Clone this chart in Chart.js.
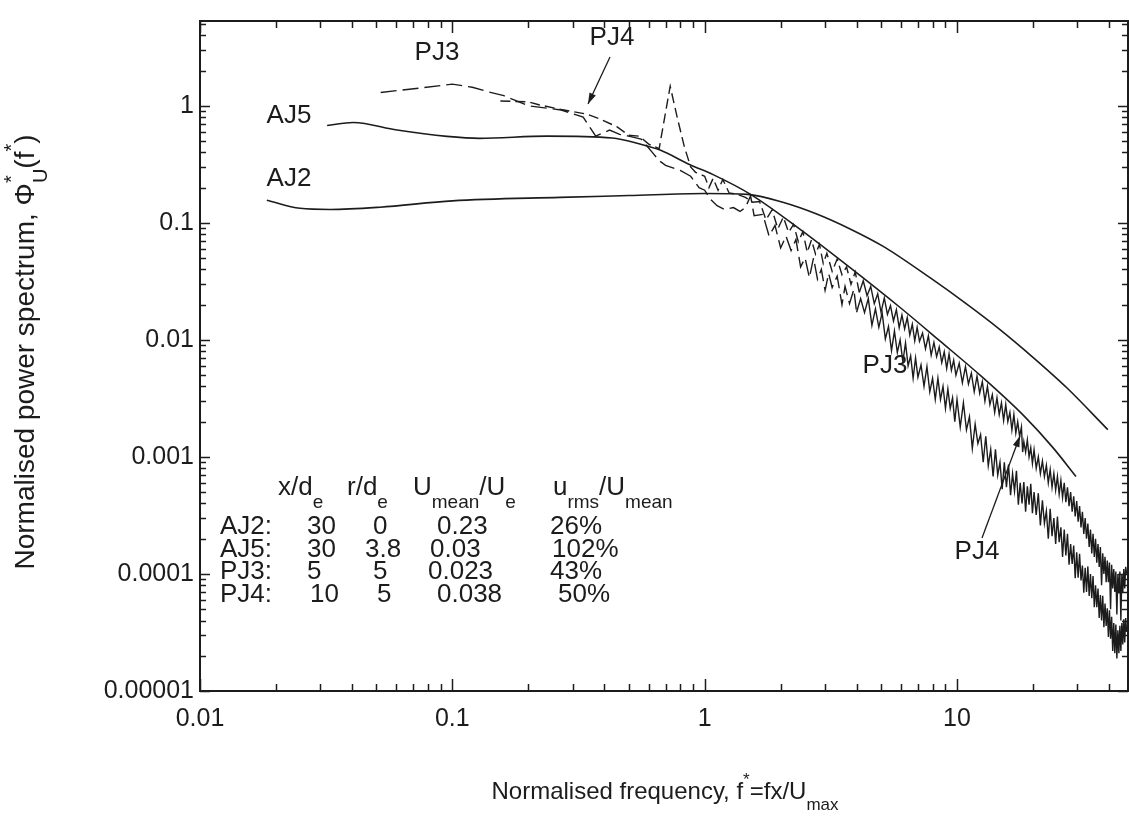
<!DOCTYPE html>
<html>
<head>
<meta charset="utf-8">
<title>Normalised power spectrum</title>
<script src="https://cdn.jsdelivr.net/npm/chart.js@4.4.0/dist/chart.umd.min.js"></script>
<style>
  html, body { margin: 0; padding: 0; background: #fff; }
  #wrap { width: 1129px; height: 816px; }
</style>
</head>
<body>
<div id="wrap"><canvas id="spectrum" width="1129" height="816"></canvas></div>
<script>
// axis ranges and tick values
const xRange = [0.01, 47.6];
const yRange = [0.00001, 5.3];
const xTicks = [0.01, 0.1, 1, 10];
const yTicks = [0.00001, 0.0001, 0.001, 0.01, 0.1, 1];
const minorSteps = [2, 3, 4, 5, 6, 7, 8, 9];

// AJ2 - smooth spectrum
const aj2Freq  = [0.0184, 0.0249, 0.0328, 0.0517, 0.1, 0.267, 0.5, 1.0, 1.48, 2.04, 2.78, 3.77, 5.12, 7.84, 10.9, 14.8, 20.0, 27.3, 39.6];
const aj2Power = [0.156, 0.133, 0.130, 0.136, 0.154, 0.165, 0.171, 0.178, 0.175, 0.150, 0.119, 0.0887, 0.0626, 0.0338, 0.0203, 0.01225, 0.0071, 0.00388, 0.00171];

// AJ5 - smooth spectrum
const aj5Freq  = [0.0319, 0.0405, 0.0604, 0.0952, 0.128, 0.237, 0.43, 0.54, 0.666, 0.875, 1.08, 1.52, 2.39, 3.77, 5.95, 8.5, 12.6, 18.5, 24.0, 29.6];
const aj5Power = [0.679, 0.72, 0.62, 0.548, 0.527, 0.55, 0.53, 0.479, 0.418, 0.313, 0.258, 0.175, 0.0879, 0.0414, 0.0189, 0.0099, 0.0048, 0.00222, 0.0012, 0.00068];

// PJ3 - measured spectrum
const pj3Freq = [
  0.052, 0.075, 0.10, 0.12, 0.14, 0.16, 0.2, 0.27, 0.33, 0.37, 0.42, 0.46, 0.5, 0.56, 0.62, 0.66, 0.7, 0.8, 0.88, 0.95, 1.0, 1.05, 1.12, 1.2, 1.3, 1.38, 1.45, 1.52,
  1.57, 1.7, 1.8, 1.9, 2.0, 2.1, 2.2, 2.3, 2.4, 2.5, 2.6, 2.7, 2.8, 2.9,
  3.0, 3.1, 3.2, 3.35, 3.5, 3.6, 3.75, 3.9, 4.0, 4.15, 4.3, 4.45, 4.6, 4.75, 4.9,
  5.05, 5.2, 5.35, 5.5, 5.65, 5.8, 5.95, 6.1, 6.25, 6.4, 6.55, 6.7, 6.85, 7.0,
  7.2, 7.4, 7.6, 7.8, 8.0, 8.2, 8.4, 8.6, 8.8, 9.0, 9.2, 9.4, 9.6, 9.8, 10.0,
  10.3, 10.6, 10.9, 11.2, 11.5, 11.8, 12.1, 12.4, 12.7, 13.0, 13.3, 13.6, 13.9, 14.2, 14.5, 14.8,
  15.1, 15.4, 15.7, 16.0, 16.3, 16.6, 16.9, 17.2, 17.5, 17.8, 18.1, 18.4, 18.7, 19.0, 19.3, 19.6, 19.9, 20.2,
  20.6, 21.0, 21.4, 21.8, 22.2, 22.6, 23.0, 23.4, 23.8, 24.2, 24.6, 25.0, 25.4, 25.8, 26.2, 26.6, 27.0, 27.4, 27.8, 28.2, 28.6, 29.0, 29.4, 29.8,
  30.2, 30.6, 31.0, 31.4, 31.8, 32.2, 32.6, 33.0, 33.4, 33.8, 34.2, 34.6, 35.0, 35.4, 35.8, 36.2, 36.6, 37.0, 37.4, 37.8, 38.2, 38.6, 39.0, 39.4, 39.8,
  40.2, 40.6, 41.0, 41.4, 41.8, 42.2, 42.6, 43.0, 43.4, 43.8, 44.2, 44.6, 45.0, 45.4, 45.8, 46.2, 46.6, 47.0
];
const pj3Power = [
  1.30, 1.42, 1.53, 1.44, 1.31, 1.22, 1.0, 0.92, 0.80, 0.55, 0.62, 0.57, 0.55, 0.52, 0.40, 0.34, 0.31, 0.28, 0.25, 0.20, 0.19, 0.16, 0.14, 0.13, 0.135, 0.125, 0.135, 0.17,
  0.115, 0.118, 0.077, 0.095, 0.061, 0.077, 0.058, 0.072, 0.042, 0.050, 0.034, 0.050, 0.033, 0.040,
  0.0265, 0.037, 0.028, 0.035, 0.020, 0.0286, 0.0204, 0.027, 0.0172, 0.0225, 0.0171, 0.0225, 0.0133, 0.0184, 0.0128,
  0.017, 0.0102, 0.013, 0.0081, 0.0119, 0.0078, 0.010, 0.0065, 0.0094, 0.006, 0.0073, 0.0047, 0.007, 0.0048,
  0.0061, 0.004, 0.0059, 0.0036, 0.0047, 0.0031, 0.0047, 0.0031, 0.004, 0.0026, 0.0038, 0.0026, 0.0032, 0.002, 0.0031,
  0.0018, 0.0029, 0.0017, 0.0022, 0.00118, 0.0019, 0.0013, 0.00155, 0.0009, 0.0015, 0.00084, 0.00116, 0.00068, 0.00116, 0.0007, 0.0009,
  0.00053, 0.0009, 0.00055, 0.00086, 0.00047, 0.00072, 0.00051, 0.00076, 0.00039, 0.0006, 0.0004, 0.00061, 0.00034, 0.00056, 0.00039, 0.00059, 0.00033, 0.0005,
  0.00032, 0.00049, 0.00026, 0.000425, 0.00027, 0.000345, 0.0002, 0.00036, 0.00021, 0.0003, 0.00018, 0.00031, 0.000187, 0.00025, 0.00014, 0.00024, 0.000144, 0.00022, 0.00012, 0.00018, 0.000122, 0.000175, 0.000092, 0.000153,
  0.000093, 0.000149, 0.000088, 0.000118, 0.000069, 0.000113, 0.00007, 0.000116, 0.000065, 0.0001, 0.000062, 0.000096, 0.000052, 0.00008, 0.000052, 0.000075, 0.000042, 0.000066, 0.00004, 0.000065, 0.000035, 0.000056, 0.000036, 0.000051, 0.000029,
  0.000049, 0.000028, 0.000043, 0.000022, 0.000038, 0.000021, 0.000037, 0.000019, 0.000033, 0.000021, 0.000036, 0.000022, 0.000038, 0.000025, 0.000041, 0.000026, 0.000042, 0.000032
];

// PJ4 - measured spectrum
const pj4Freq = [
  0.155, 0.2, 0.22, 0.27, 0.34, 0.38, 0.45, 0.5, 0.55, 0.6, 0.66, 0.73, 0.78, 0.83, 0.88, 0.92, 1.0, 1.04, 1.08, 1.13, 1.18, 1.25, 1.35, 1.45,
  1.55, 1.65, 1.75, 1.85, 1.95, 2.05, 2.15, 2.25, 2.35, 2.45, 2.55, 2.65, 2.75, 2.85, 2.95, 3.05,
  3.2, 3.35, 3.5, 3.65, 3.8, 3.95, 4.1, 4.25, 4.4, 4.55, 4.7, 4.85, 5.0, 5.15, 5.3, 5.45, 5.6, 5.75, 5.9, 6.05, 6.2, 6.35,
  6.5, 6.65, 6.8, 6.95, 7.1, 7.3, 7.5, 7.7, 7.9, 8.1, 8.3, 8.5, 8.7, 8.9, 9.1, 9.3, 9.5, 9.7, 9.9,
  10.2, 10.5, 10.8, 11.1, 11.4, 11.7, 12.0, 12.3, 12.6, 12.9, 13.2, 13.5, 13.8, 14.1, 14.4, 14.7,
  15.0, 15.3, 15.6, 15.9, 16.2, 16.5, 16.8, 17.1, 17.4, 17.7, 18.0, 18.2, 18.4, 18.7, 19.0, 19.3, 19.6, 19.9, 20.2,
  20.6, 21.0, 21.4, 21.8, 22.2, 22.6, 23.0, 23.4, 23.8, 24.2, 24.6, 25.0, 25.4, 25.8, 26.2, 26.6, 27.0, 27.4, 27.8, 28.2, 28.6, 29.0, 29.4, 29.8,
  30.2, 30.6, 31.0, 31.4, 31.8, 32.2, 32.6, 33.0, 33.4, 33.8, 34.2, 34.6, 35.0, 35.4, 35.8, 36.2, 36.6, 37.0, 37.4, 37.8, 38.2, 38.6, 39.0, 39.4, 39.8,
  40.2, 40.6, 41.0, 41.4, 41.8, 42.2, 42.6, 43.0, 43.4, 43.8, 44.2, 44.6, 45.0, 45.4, 45.8, 46.2, 46.6, 47.0
];
const pj4Power = [
  1.10, 1.08, 1.02, 0.93, 0.85, 0.78, 0.66, 0.56, 0.55, 0.47, 0.43, 1.47, 0.78, 0.45, 0.30, 0.27, 0.25, 0.20, 0.24, 0.19, 0.235, 0.18, 0.175, 0.165,
  0.15, 0.152, 0.106, 0.129, 0.089, 0.112, 0.083, 0.097, 0.069, 0.084, 0.056, 0.0715, 0.054, 0.0655, 0.045, 0.055,
  0.0385, 0.049, 0.036, 0.042, 0.0298, 0.038, 0.0254, 0.032, 0.0238, 0.0286, 0.0204, 0.0248, 0.0172, 0.0228, 0.0165, 0.0196, 0.0145, 0.0181, 0.0127, 0.0163, 0.0124, 0.0155,
  0.011, 0.0136, 0.0098, 0.0128, 0.0097, 0.0114, 0.0084, 0.0108, 0.0074, 0.0095, 0.0072, 0.0087, 0.0064, 0.0079, 0.0057, 0.0076, 0.0055, 0.0067, 0.005,
  0.0063, 0.0043, 0.0059, 0.0042, 0.0052, 0.0036, 0.0049, 0.0035, 0.0044, 0.003, 0.004, 0.0028, 0.0034, 0.0024, 0.0032, 0.0023,
  0.0029, 0.00205, 0.0028, 0.002, 0.0024, 0.0017, 0.0023, 0.0016, 0.002, 0.0015, 0.0018, 0.0011, 0.00135, 0.0011, 0.0014, 0.001, 0.0012, 0.00088, 0.00115,
  0.0008, 0.001, 0.00072, 0.00092, 0.00068, 0.00085, 0.0006, 0.00078, 0.00055, 0.00072, 0.00052, 0.00068, 0.00048, 0.00063, 0.00045, 0.0006, 0.00041, 0.00055, 0.00038, 0.0005, 0.00034, 0.00046, 0.00031, 0.00042,
  0.00028, 0.00038, 0.00025, 0.00034, 0.00022, 0.0003, 0.0002, 0.00027, 0.00017, 0.00024, 0.00015, 0.00022, 0.00014, 0.0002, 0.000125, 0.00018, 0.000115, 0.00017, 0.00008, 0.00015, 0.0001, 0.00014, 0.000085, 0.00013, 0.000085,
  0.000125, 0.00005, 0.00012, 0.000075, 0.00011, 0.00007, 0.000105, 0.000045, 0.0001, 0.000068, 0.000105, 0.00004, 0.0001, 0.00007, 0.00011, 0.000075, 0.000115, 0.0001
];

const INK = '#1c1c1c';
const FONT = '"Liberation Sans", Arial, sans-serif';

function pairs(xs, ys) {
  return xs.map((x, i) => ({ x: x, y: ys[i] }));
}

function fmtTick(v) {
  if (v >= 1) return String(v);
  const digits = Math.round(-Math.log10(v));
  return v.toFixed(digits);
}

// dashed at low frequency, where the samples are sparse
function dashBelow(limit, pattern) {
  return ctx => (ctx.p0.parsed.x < limit ? pattern : []);
}

// text with sub/superscripts; parts: {t, sub, sup}
function richWidth(ctx, parts, size) {
  let w = 0;
  parts.forEach(p => {
    ctx.font = size + 'px ' + FONT;
    const pw = p.t ? ctx.measureText(p.t).width : 0;
    ctx.font = Math.round(size * 0.72) + 'px ' + FONT;
    const sw = Math.max(p.sub ? ctx.measureText(p.sub).width : 0, p.sup ? ctx.measureText(p.sup).width : 0);
    w += pw + sw;
  });
  return w;
}

function drawRich(ctx, parts, x, y, size, align) {
  let cx = align === 'center' ? x - richWidth(ctx, parts, size) / 2 : x;
  ctx.textAlign = 'left';
  ctx.textBaseline = 'middle';
  parts.forEach(p => {
    ctx.font = size + 'px ' + FONT;
    if (p.t) {
      ctx.fillText(p.t, cx, y);
      cx += ctx.measureText(p.t).width;
    }
    ctx.font = Math.round(size * 0.72) + 'px ' + FONT;
    let sw = 0;
    if (p.sub) {
      ctx.fillText(p.sub, cx, y + size * 0.55);
      sw = ctx.measureText(p.sub).width;
    }
    if (p.sup) {
      ctx.fillText(p.sup, cx, y - size * 0.5);
      sw = Math.max(sw, ctx.measureText(p.sup).width);
    }
    cx += sw;
  });
}

function arrow(ctx, x0, y0, x1, y1) {
  ctx.beginPath();
  ctx.moveTo(x0, y0);
  ctx.lineTo(x1, y1);
  ctx.stroke();
  const a = Math.atan2(y1 - y0, x1 - x0);
  ctx.beginPath();
  ctx.moveTo(x1, y1);
  ctx.lineTo(x1 - 11 * Math.cos(a) + 3.5 * Math.sin(a), y1 - 11 * Math.sin(a) - 3.5 * Math.cos(a));
  ctx.lineTo(x1 - 11 * Math.cos(a) - 3.5 * Math.sin(a), y1 - 11 * Math.sin(a) + 3.5 * Math.cos(a));
  ctx.closePath();
  ctx.fill();
}

// boxed frame with inward ticks on all four sides, titles and labels
const decorations = {
  id: 'decorations',
  afterDraw(chart) {
    const { ctx, chartArea: a, scales: { x, y } } = chart;
    ctx.save();
    ctx.strokeStyle = INK;
    ctx.fillStyle = INK;

    ctx.lineWidth = 1.5;
    ctx.beginPath();
    xTicks.forEach(d => {
      [1].concat(minorSteps).forEach(m => {
        const v = d * m;
        if (v > x.max) return;
        const px = Math.round(x.getPixelForValue(v)) + 0.5;
        const len = m === 1 ? 12 : 7;
        ctx.moveTo(px, a.bottom); ctx.lineTo(px, a.bottom - len);
        ctx.moveTo(px, a.top); ctx.lineTo(px, a.top + len);
      });
    });
    yTicks.forEach(d => {
      [1].concat(minorSteps).forEach(m => {
        const v = d * m;
        if (v > y.max) return;
        const py = Math.round(y.getPixelForValue(v)) + 0.5;
        const len = m === 1 ? 10 : 6;
        ctx.moveTo(a.left, py); ctx.lineTo(a.left + len, py);
        ctx.moveTo(a.right, py); ctx.lineTo(a.right - len, py);
      });
    });
    ctx.stroke();

    ctx.lineWidth = 2;
    ctx.strokeRect(a.left, a.top, a.right - a.left, a.bottom - a.top);

    // curve labels
    ctx.textAlign = 'center';
    ctx.textBaseline = 'middle';
    ctx.font = '26px ' + FONT;
    ctx.fillText('PJ3', 437, 53);
    ctx.fillText('PJ4', 612, 38);
    ctx.fillText('AJ5', 289, 116);
    ctx.fillText('AJ2', 289, 179);
    ctx.fillText('PJ3', 885, 366);
    ctx.fillText('PJ4', 977, 552);
    ctx.lineWidth = 1.3;
    arrow(ctx, 610, 57, 588, 104);
    arrow(ctx, 982, 538, 1020, 436);

    // case table
    drawRich(ctx, [{ t: 'x/d', sub: 'e' }], 278, 488, 26, 'left');
    drawRich(ctx, [{ t: 'r/d', sub: 'e' }], 347, 488, 26, 'left');
    drawRich(ctx, [{ t: 'U', sub: 'mean' }, { t: '/U', sub: 'e' }], 413, 488, 26, 'left');
    drawRich(ctx, [{ t: 'u', sub: 'rms' }, { t: '/U', sub: 'mean' }], 553, 488, 26, 'left');
    const rows = [
      ['AJ2:', '30', 307, '0', 373, '0.23', 437, '26%', 550],
      ['AJ5:', '30', 307, '3.8', 365, '0.03', 430, '102%', 552],
      ['PJ3:', '5', 307, '5', 373, '0.023', 428, '43%', 550],
      ['PJ4:', '10', 310, '5', 377, '0.038', 437, '50%', 558]
    ];
    ctx.font = '26px ' + FONT;
    ctx.textAlign = 'left';
    ctx.textBaseline = 'middle';
    rows.forEach((r, i) => {
      const ty = 527 + i * 22.5;
      ctx.fillText(r[0], 220, ty);
      ctx.fillText(r[1], r[2], ty);
      ctx.fillText(r[3], r[4], ty);
      ctx.fillText(r[5], r[6], ty);
      ctx.fillText(r[7], r[8], ty);
    });

    // axis titles
    drawRich(ctx, [{ t: 'Normalised frequency, f', sup: '*' }, { t: '=fx/U', sub: 'max' }], 665, 792, 24, 'center');
    ctx.translate(26, 352);
    ctx.rotate(-Math.PI / 2);
    drawRich(ctx, [{ t: 'Normalised power spectrum, \u03A6', sub: 'U', sup: '*' }, { t: '(f', sup: '*' }, { t: ')' }], 0, 0, 28, 'center');
    ctx.restore();
  }
};

new Chart(document.getElementById('spectrum'), {
  type: 'line',
  data: {
    datasets: [
      { label: 'AJ2', data: pairs(aj2Freq, aj2Power), borderColor: INK, borderWidth: 1.6, cubicInterpolationMode: 'monotone', pointRadius: 0 },
      { label: 'AJ5', data: pairs(aj5Freq, aj5Power), borderColor: INK, borderWidth: 1.6, cubicInterpolationMode: 'monotone', pointRadius: 0 },
      { label: 'PJ3', data: pairs(pj3Freq, pj3Power), borderColor: INK, borderWidth: 1.4, pointRadius: 0, segment: { borderDash: dashBelow(4, [16, 6]) } },
      { label: 'PJ4', data: pairs(pj4Freq, pj4Power), borderColor: INK, borderWidth: 1.4, pointRadius: 0, segment: { borderDash: dashBelow(4, [10, 5]) } }
    ]
  },
  options: {
    responsive: false,
    animation: false,
    layout: { padding: { left: 0, right: 1, top: 11, bottom: 0 } },
    plugins: { legend: { display: false }, tooltip: { enabled: false } },
    scales: {
      x: {
        type: 'logarithmic',
        min: xRange[0],
        max: xRange[1],
        grid: { display: false, drawTicks: false },
        border: { display: false },
        afterBuildTicks: axis => { axis.ticks = xTicks.map(v => ({ value: v })); },
        afterFit: axis => { axis.height = 125; },
        ticks: {
          color: INK,
          padding: 13,
          maxRotation: 0,
          autoSkip: false,
          font: { family: FONT, size: 25 },
          callback: v => fmtTick(v)
        }
      },
      y: {
        type: 'logarithmic',
        min: yRange[0],
        max: yRange[1],
        grid: { display: false, drawTicks: false },
        border: { display: false },
        afterBuildTicks: axis => { axis.ticks = yTicks.map(v => ({ value: v })); },
        afterFit: axis => { axis.width = 200; },
        ticks: {
          color: INK,
          padding: 6,
          autoSkip: false,
          font: { family: FONT, size: 25 },
          callback: v => fmtTick(v)
        }
      }
    }
  },
  plugins: [decorations]
});
</script>
</body>
</html>
